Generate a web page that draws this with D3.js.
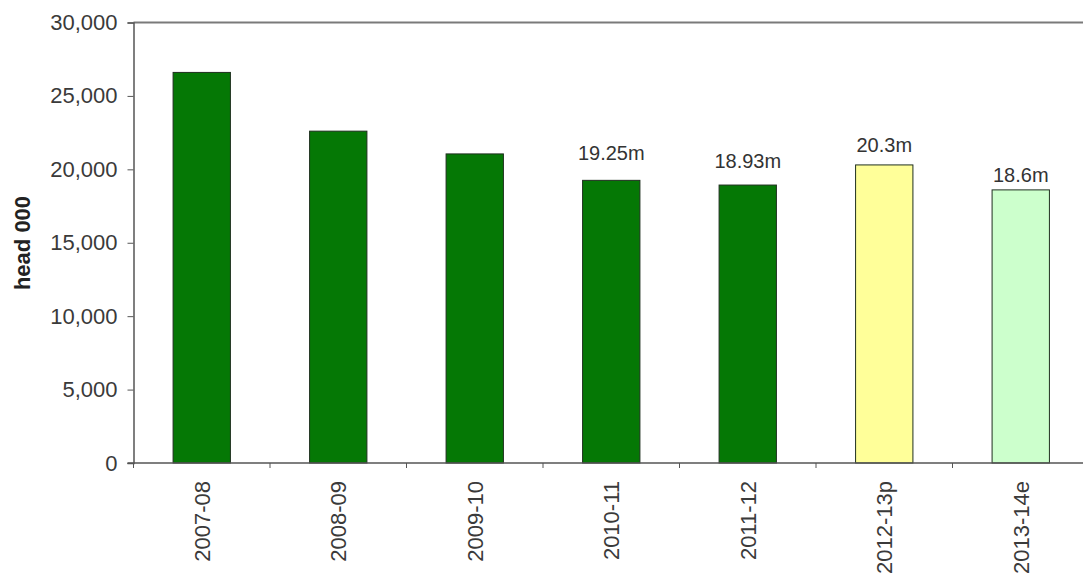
<!DOCTYPE html>
<html>
<head>
<meta charset="utf-8">
<script src="https://cdn.jsdelivr.net/npm/d3@7"></script>
<style>
  body { margin: 0; background: #fff; }
  svg { display: block; font-family: "Liberation Sans", Arial, sans-serif; }
</style>
</head>
<body>
<svg id="chart" width="1083" height="583"></svg>
<script>
// data
const categories = ["2007-08", "2008-09", "2009-10", "2010-11", "2011-12", "2012-13p", "2013-14e"];
const values = [26600, 22600, 21050, 19250, 18930, 20300, 18600];
const valueLabels = ["", "", "", "19.25m", "18.93m", "20.3m", "18.6m"];
// hvor etiketterne står, i samme enhed som y-aksen (sat i hånden i originalen)
const labelAt = [0, 0, 0, 20650, 20100, 21200, 19150];
const yTicks = [0, 5000, 10000, 15000, 20000, 25000, 30000];
const barColors = ["#057805", "#057805", "#057805", "#057805", "#057805", "#ffff99", "#ccffcc"];

const svg = d3.select("#chart");
const plotLeft = 133.5, plotRight = 1089, plotTop = 22.5, plotBottom = 463;

const x = d3.scaleBand()
  .domain(categories)
  .range([plotLeft, plotRight])
  .paddingInner(0.58)
  .paddingOuter(0.29);

const y = d3.scaleLinear()
  .domain([0, 30000])
  .range([plotBottom, plotTop]);

// rand øverst
svg.append("line")
  .attr("x1", plotLeft).attr("x2", plotRight)
  .attr("y1", y(30000)).attr("y2", y(30000))
  .attr("stroke", "#7a7a7a")
  .attr("stroke-width", 2);

// søjler
svg.append("g")
  .selectAll("rect")
  .data(categories)
  .join("rect")
  .attr("x", d => x(d))
  .attr("y", (d, i) => y(values[i]))
  .attr("width", x.bandwidth())
  .attr("height", (d, i) => y(0) - y(values[i]))
  .attr("fill", (d, i) => barColors[i])
  .attr("stroke", "#1f2f1f")
  .attr("stroke-width", 1);

// værdi-etiketter
svg.append("g")
  .selectAll("text")
  .data(categories)
  .join("text")
  .attr("x", d => x(d) + x.bandwidth() / 2)
  .attr("y", (d, i) => y(labelAt[i]))
  .attr("text-anchor", "middle")
  .attr("font-size", 20)
  .attr("fill", "#333")
  .text((d, i) => valueLabels[i]);

// y-akse
const yAxis = svg.append("g")
  .attr("transform", `translate(${plotLeft},0)`)
  .call(d3.axisLeft(y).tickValues(yTicks).tickSize(6).tickPadding(10).tickFormat(d3.format(",")));
yAxis.select(".domain").attr("stroke", "#555").attr("stroke-width", 1.5);
yAxis.selectAll(".tick line").attr("stroke", "#555");
yAxis.selectAll(".tick text")
  .attr("font-size", 22)
  .attr("fill", "#3a3a3a")
  .attr("font-family", "Liberation Sans, Arial, sans-serif");

// x-akse linje og ticks mellem kategorierne
svg.append("line")
  .attr("x1", plotLeft - 6).attr("x2", plotRight)
  .attr("y1", plotBottom).attr("y2", plotBottom)
  .attr("stroke", "#555")
  .attr("stroke-width", 1.5);

const step = x.step();
const boundaries = categories.map(c => x(c) - step * x.paddingInner() / 2);
svg.append("g")
  .selectAll("line")
  .data(boundaries)
  .join("line")
  .attr("x1", d => d).attr("x2", d => d)
  .attr("y1", plotBottom).attr("y2", plotBottom + 5)
  .attr("stroke", "#555");

// kategori-etiketter, drejet
svg.append("g")
  .selectAll("text")
  .data(categories)
  .join("text")
  .attr("transform", d => `translate(${x(d) + x.bandwidth() / 2 + 8},${plotBottom + 18}) rotate(-90)`)
  .attr("text-anchor", "end")
  .attr("font-size", 22)
  .attr("fill", "#3a3a3a")
  .text(d => d);

// y-akse titel
svg.append("text")
  .attr("transform", `translate(30,243) rotate(-90)`)
  .attr("text-anchor", "middle")
  .attr("font-size", 22)
  .attr("font-weight", "bold")
  .attr("fill", "#222")
  .text("head 000");
</script>
</body>
</html>
